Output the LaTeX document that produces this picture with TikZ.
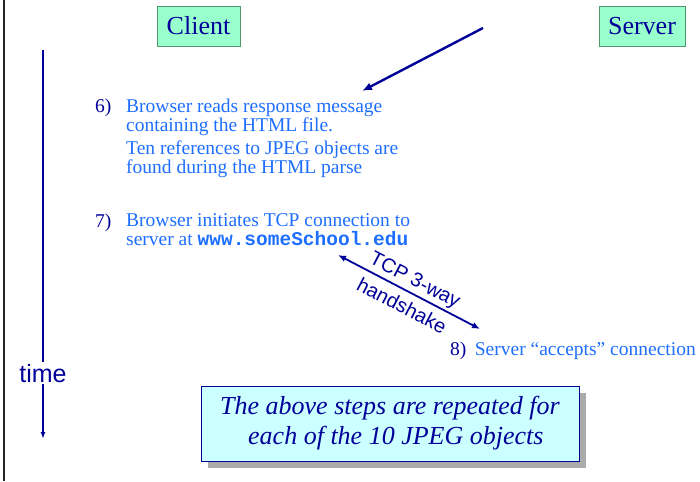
\documentclass[tikz,border=0pt]{standalone}
\usepackage{fontspec}
\setmainfont{Liberation Serif}
\setsansfont{Liberation Sans}
\setmonofont{Liberation Mono}
\usetikzlibrary{arrows.meta, positioning, shadows}
\definecolor{navy}{RGB}{0,0,153}
\definecolor{msgblue}{RGB}{30,110,255}
\definecolor{hostgreen}{RGB}{153,255,204}
\definecolor{hostedge}{RGB}{80,150,110}
\definecolor{notecyan}{RGB}{204,255,255}

\begin{document}
\begin{tikzpicture}[
  x=1pt, y=-1pt,
  host/.style={rectangle, draw=hostedge, line width=0.6pt, fill=hostgreen,
    minimum height=40pt, inner sep=0pt, text=navy, font=\fontsize{26}{28}\selectfont},
  num/.style={anchor=base west, inner sep=0pt, text=navy, font=\fontsize{19.5}{19}\selectfont},
  msg/.style={anchor=base west, align=left, inner sep=0pt, text=msgblue, font=\fontsize{19.5}{19}\selectfont},
  flow/.style={draw=navy, line width=2.4pt, -{Latex[length=10pt,width=8pt]}},
  shake/.style={draw=navy, line width=1.8pt, {Latex[length=8pt,width=6.5pt]}-{Latex[length=8pt,width=6.5pt]}},
  shakelbl/.style={sloped, inner sep=2pt, text=navy, font=\sffamily\fontsize{20}{22}\selectfont},
  axis/.style={draw=navy, line width=1.6pt},
  note/.style={rectangle, draw=navy, line width=1pt, fill=notecyan, minimum width=378pt, minimum height=75pt,
    align=left, text=navy, font=\itshape\fontsize{26}{30}\selectfont,
    drop shadow={shadow xshift=7pt, shadow yshift=-7pt, fill=black!33, opacity=1}}
]
\useasboundingbox (0,0) rectangle (700,481);
\draw[line width=1.2pt, black!85] (4,0) -- (4,481);

\node[host, minimum width=83pt] (client) at (198.5,26) {Client};
\node[host, minimum width=86pt] (server) at (642,26) {Server};

\coordinate (respfrom) at (483,28);
\coordinate (respto) at (362,91);
\draw[flow] (respfrom) -- (respto);

\coordinate (axistop) at (43,50);
\coordinate (axisend) at (43,439);
\node[inner sep=2pt, text=navy, font=\sffamily\fontsize{25}{27}\selectfont, anchor=base] (time) at (43,382) {time};
\draw[axis] (axistop) -- (time);
\draw[axis, -{Latex[length=7pt,width=5pt]}] (time) -- (axisend);

\node[num] (n6) at (95,113) {6)};
\node[msg] (s6) at (126,173.3) {Browser reads response message\\containing the HTML file.\\[4.3pt]Ten references to JPEG objects are\\found during the HTML parse};

\node[num] (n7) at (95,227) {7)};
\node[msg] (s7) at (126,245.5) {Browser initiates TCP connection to\\server at \texttt{\bfseries www.someSchool.edu}};

\coordinate (shakeA) at (338,255);
\coordinate (shakeB) at (480,329);
\draw[shake] (shakeA) -- node[shakelbl, above=0pt] (tcp) {TCP 3-way} node[shakelbl, below=5pt] (hs) {handshake} (shakeB);

\node[num] (n8) at (450,355) {8)};
\node[msg] (s8) at ([xshift=8pt]n8.base east) {Server “accepts” connection};

\node[note] (repeat) at (390,423.5) {The above steps are repeated for\\\hspace*{28pt}each of the 10 JPEG objects};
\end{tikzpicture}
\end{document}
